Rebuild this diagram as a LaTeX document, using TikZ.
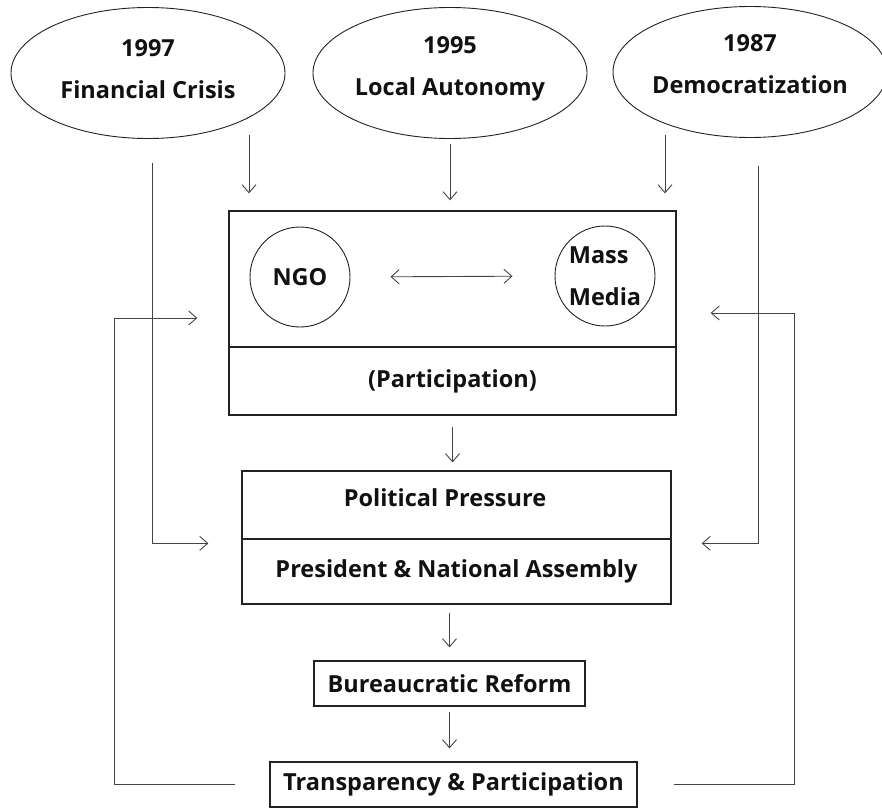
\documentclass[tikz,border=0pt]{standalone}
\usepackage{fontspec}
\setmainfont{Open Sans}
\usetikzlibrary{arrows.meta,shapes.geometric}
\definecolor{ink}{HTML}{111111}
\definecolor{wire}{HTML}{444444}
\definecolor{frame}{HTML}{222222}
\begin{document}
\begin{tikzpicture}[x=1pt,y=-1pt,
  txt/.style={font=\bfseries\fontsize{23.5}{42}\selectfont, text=ink, align=center, inner sep=0pt},
  event/.style={ellipse, draw=frame, line width=0.9pt, minimum width=274pt, minimum height=131pt, inner sep=0pt},
  actor/.style={circle, draw=frame, line width=0.9pt, minimum size=100pt, inner sep=0pt},
  panel/.style={rectangle, draw=frame, line width=1.3pt, inner sep=0pt},
  link/.style={draw=wire, line width=0.9pt},
  tip/.tip={Straight Barb[length=8pt,width=14pt]},
  arr/.style={link, -tip},
  arrboth/.style={link, tip-tip},
]
\useasboundingbox (0,0) rectangle (882,808);

% driving events
\node[event, label={[txt, yshift=4pt]center:{1997\\Financial Crisis}}] (e1) at (148,73) {};
\node[event, label={[txt, yshift=4pt]center:{1995\\Local Autonomy}}] (e2) at (450,73) {};
\node[event, label={[txt, yshift=8pt]center:{1987\\Democratization}}] (e3) at (750,72) {};

% participation panel
\node[panel, minimum width=447pt, minimum height=136pt] (mt) at (452.5,279) {};
\node[panel, txt, minimum width=447pt, minimum height=68pt] (mb) at (452.5,381) {(Participation)};
\node[actor, txt] (ngo) at (300,277) {NGO};
\node[actor, txt, align=left] (mm) at (605,276) {Mass\\Media};

% political level
\node[panel, minimum width=429pt, minimum height=68pt,
      label={[txt, xshift=-11.5pt, yshift=7pt]center:Political Pressure}] (pp) at (456.5,505) {};
\node[panel, txt, minimum width=429pt, minimum height=65pt] (pna) at (456.5,571.5) {President \& National Assembly};

% outcomes
\node[panel, txt, minimum width=271pt, minimum height=45pt] (bur) at (449.5,683.5) {Bureaucratic Reform};
\node[panel, txt, minimum width=367pt, minimum height=45pt] (tr) at (453.5,784.5) {Transparency \& Participation};

% free ends of the event arrows and the feedback loops
\coordinate (a1) at (249,135);
\coordinate (a3) at (665,135);
\coordinate (fc) at (152,163);
\coordinate (dm) at (758,166);
\coordinate (lx) at (114,0);
\coordinate (rx) at (794,0);

% events into the participation panel
\draw[arr, shorten >=17pt] (a1) -- (a1 |- mt.north);
\draw[arr, shorten <=5pt, shorten >=10pt] (e2.south) -- (e2.south |- mt.north);
\draw[arr, shorten >=17pt] (a3) -- (a3 |- mt.north);

% NGO <-> mass media
\draw[arrboth, shorten <=40pt, shorten >=42pt] (ngo.east) -- (mm.west);

% main chain
\draw[arr, shorten <=11pt, shorten >=8pt] (mb.south) -- (mb.south |- pp.north);
\draw[arr, shorten <=8pt, shorten >=13pt] (bur.north |- pna.south) -- (bur.north);
\draw[arr, shorten <=5pt, shorten >=13pt] (bur.south) -- (bur.south |- tr.north);

% crisis and democratization acting on the political level
\draw[arr] (fc) |- ([xshift=-33pt, yshift=-5pt]pna.north west);
\draw[arr] (dm) |- ([xshift=30pt, yshift=-5pt]pna.north east);

% feedback from transparency back to participation
\draw[arr] ([xshift=-34pt]tr.west) -- (tr.west -| lx) |- ([xshift=-31pt, yshift=-39pt]mt.west);
\draw[arr] ([xshift=36pt]tr.east) -- (tr.east -| rx) |- ([xshift=34pt, yshift=-34pt]mt.east);
\end{tikzpicture}
\end{document}
